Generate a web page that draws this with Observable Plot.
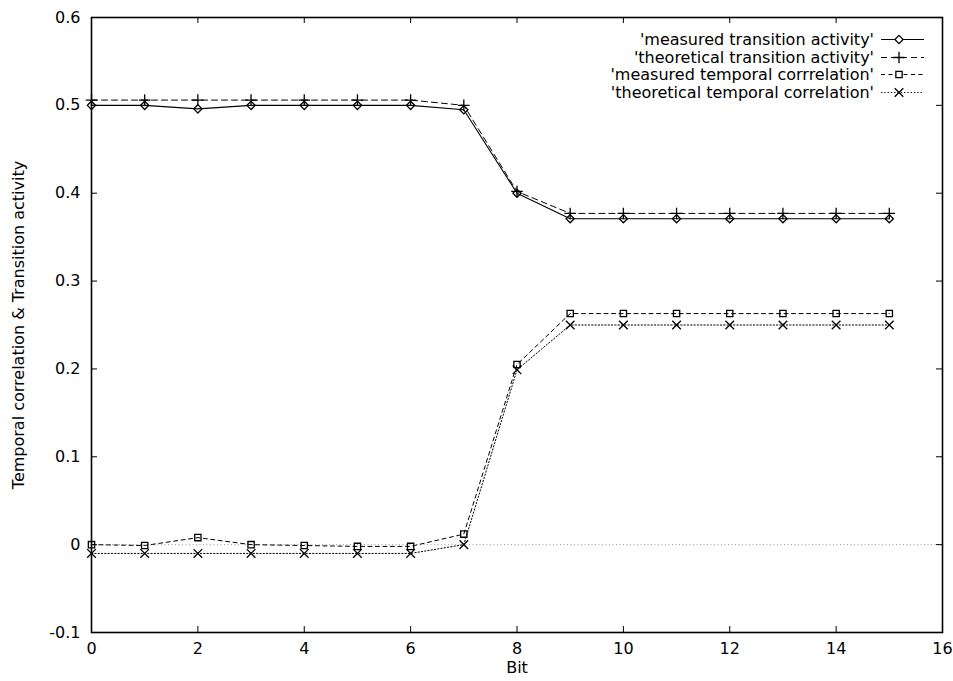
<!DOCTYPE html>
<html>
<head>
<meta charset="utf-8">
<script src="https://cdn.jsdelivr.net/npm/d3@7"></script>
<script src="https://cdn.jsdelivr.net/npm/@observablehq/plot@0.6"></script>
<style>
  html, body { margin: 0; padding: 0; background: #fff; }
  #wrap { position: relative; width: 953px; height: 681px; font-family: "DejaVu Sans", "Liberation Sans", Arial, sans-serif; }
  #wrap svg g[aria-label="x-axis tick label"], #wrap svg g[aria-label="y-axis tick label"] { font-size: 16px; }
  #legend { position: absolute; right: 28px; top: 31px; font-size: 16px; color: #000; }
  .row { display: flex; align-items: center; justify-content: flex-end; height: 17.5px; }
  .row span { white-space: nowrap; margin-right: 5px; }
  .row svg { display: block; }
</style>
</head>
<body>
<div id="wrap"></div>
<script>
// ---- data ----
const bits = [0, 1, 2, 3, 4, 5, 6, 7, 8, 9, 10, 11, 12, 13, 14, 15];
const measuredTransition = [0.500, 0.500, 0.496, 0.500, 0.500, 0.500, 0.500, 0.495, 0.400, 0.371, 0.371, 0.371, 0.371, 0.371, 0.371, 0.371];
const theoreticalTransition = [0.506, 0.506, 0.506, 0.506, 0.506, 0.506, 0.506, 0.500, 0.402, 0.377, 0.377, 0.377, 0.377, 0.377, 0.377, 0.377];
const measuredCorrelation = [0.000, -0.001, 0.008, 0.000, -0.001, -0.002, -0.002, 0.012, 0.205, 0.263, 0.263, 0.263, 0.263, 0.263, 0.263, 0.263];
const theoreticalCorrelation = [-0.010, -0.010, -0.010, -0.010, -0.010, -0.010, -0.010, 0.000, 0.199, 0.250, 0.250, 0.250, 0.250, 0.250, 0.250, 0.250];
const seriesNames = ["'measured transition activity'", "'theoretical transition activity'", "'measured temporal corrrelation'", "'theoretical temporal correlation'"];
const xTicks = [0, 2, 4, 6, 8, 10, 12, 14, 16];
const yTicks = [-0.1, 0, 0.1, 0.2, 0.3, 0.4, 0.5, 0.6];
const xLabel = "Bit";
const yLabel = "Temporal correlation & Transition activity";

// ---- styles per series ----
const styles = [
  {values: measuredTransition, symbol: "diamond2", dash: null, r: 3.7, sw: 1.1},
  {values: theoreticalTransition, symbol: "plus", dash: "6,4", r: 3.8, sw: 1},
  {values: measuredCorrelation, symbol: "square2", dash: "4,3.5", r: 4, sw: 1},
  {values: theoreticalCorrelation, symbol: "times", dash: "1.3,2", r: 4, sw: 1}
];

const W = 953, H = 681;
const mL = 91, mR = 11, mT = 17, mB = 49;
const pw = W - mL - mR, ph = H - mT - mB;
const tk = 6;
const FS = 16;

const fmt = d => String(+d.toFixed(1));

const marks = [
  Plot.ruleY([0], {stroke: "#999", strokeDasharray: "1,2.5", strokeWidth: 1}),
  Plot.frame({stroke: "#000", strokeWidth: 1.6}),
  // inward ticks (bottom / top / left / right)
  Plot.tickX(xTicks, {x: d => d, insetTop: ph - tk, stroke: "#000"}),
  Plot.tickX(xTicks, {x: d => d, insetBottom: ph - tk, stroke: "#000"}),
  Plot.tickY(yTicks, {y: d => d, insetRight: pw - tk, stroke: "#000"}),
  Plot.tickY(yTicks, {y: d => d, insetLeft: pw - tk, stroke: "#000"}),
  Plot.axisX({ticks: xTicks, tickSize: 0, tickPadding: 10, tickFormat: fmt, label: null, fontSize: FS}),
  Plot.axisY({ticks: yTicks, tickSize: 0, tickPadding: 11, tickFormat: fmt, label: null, fontSize: FS}),
  Plot.text([xLabel], {frameAnchor: "bottom", dy: 40, fontSize: FS, fill: "#000"}),
  Plot.text([yLabel], {frameAnchor: "left", dx: -73, rotate: -90, textAnchor: "middle", fontSize: FS, fill: "#000"})
];

styles.forEach(s => {
  const data = bits.map((b, i) => ({x: b, y: s.values[i]}));
  marks.push(Plot.line(data, {x: "x", y: "y", stroke: "#000", strokeWidth: s.sw, strokeDasharray: s.dash}));
  marks.push(Plot.dot(data, {x: "x", y: "y", symbol: () => s.symbol, r: s.r, stroke: "#000", fill: "none", strokeWidth: 1.3}));
});

const chart = Plot.plot({
  width: W, height: H,
  marginLeft: mL, marginRight: mR, marginTop: mT, marginBottom: mB,
  style: {fontFamily: "'DejaVu Sans', 'Liberation Sans', Arial, sans-serif", fontSize: FS + "px", color: "#000", background: "#fff"},
  x: {domain: [0, 16]},
  y: {domain: [-0.1, 0.6]},
  symbol: {type: "identity"},
  marks
});
const wrap = document.getElementById("wrap");
wrap.appendChild(chart);

// ---- legend ----
const legend = document.createElement("div");
legend.id = "legend";
styles.forEach((s, i) => {
  const row = document.createElement("div");
  row.className = "row";
  const span = document.createElement("span");
  span.textContent = seriesNames[i];
  row.appendChild(span);
  const sw = 46, sh = 17, cx = 20, cy = 8.5;
  const svg = d3.create("svg").attr("width", sw).attr("height", sh);
  svg.append("line").attr("x1", 2).attr("x2", sw - 1).attr("y1", cy).attr("y2", cy)
    .attr("stroke", "#000").attr("stroke-width", s.sw).attr("stroke-dasharray", s.dash);
  const symMap = {diamond2: d3.symbolDiamond2, plus: d3.symbolPlus, square2: d3.symbolSquare2, times: d3.symbolTimes};
  svg.append("path").attr("transform", `translate(${cx},${cy})`)
    .attr("d", d3.symbol(symMap[s.symbol], s.r * s.r * Math.PI)())
    .attr("fill", "#fff").attr("stroke", "#000").attr("stroke-width", 1.3);
  row.appendChild(svg.node());
  legend.appendChild(row);
});
wrap.appendChild(legend);
</script>
</body>
</html>
